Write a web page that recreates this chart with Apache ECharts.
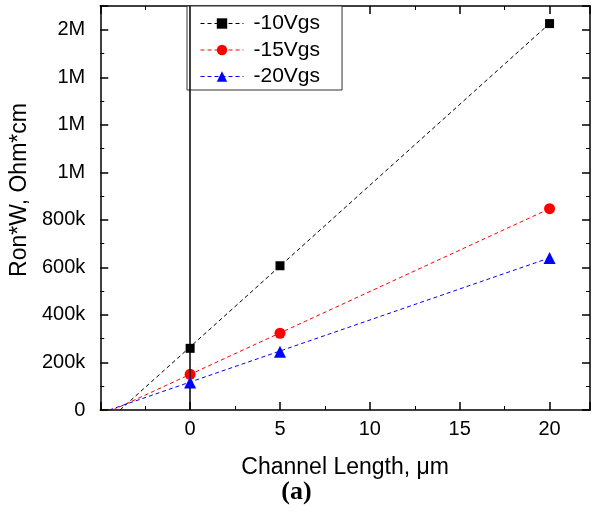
<!DOCTYPE html>
<html>
<head>
<meta charset="utf-8">
<script src="https://cdn.jsdelivr.net/npm/echarts@6/dist/echarts.min.js"></script>
<style>
html,body{margin:0;padding:0;background:#fff;}
#chart{width:593px;height:513px;}
</style>
</head>
<body>
<div id="chart"></div>
<script>
// ---- data ----
const lengths = [0, 5, 20];                      // channel length, µm
const vgs10 = [259500, 607000, 1626000];         // -10Vgs  Ron*W
const vgs15 = [150000, 323000, 847000];          // -15Vgs
const vgs20 = [116000, 245000, 640000];          // -20Vgs
// dashed fit lines: start (x-intercept) and end (x = 20)
const fit10X = [-3.9, 20], fit10Y = [0, 1626000];
const fit15X = [-4.3, 20], fit15Y = [0, 847000];
const fit20X = [-4.5, 20], fit20Y = [0, 640000];
const seriesNames = ['-10Vgs', '-15Vgs', '-20Vgs'];
// tick labels
const xTickValues = [-5, 0, 5, 10, 15, 20];
const xTickLabels = ['', '0', '5', '10', '15', '20'];
const yTickValues = [0, 200000, 400000, 600000, 800000, 1000000, 1200000, 1400000, 1600000];
const yTickLabels = ['0', '200k', '400k', '600k', '800k', '1M', '1M', '1M', '2M'];

const FONT = 'Liberation Sans, Arial, sans-serif';
const colors = ['#000000', '#ff0000', '#0000ff'];
const symbols = ['rect', 'circle', 'triangle'];
const symSizes = [9, 11, 12];

function pairs(xs, ys){ return xs.map((x,i)=>[x, ys[i]]); }

const fits = [pairs(fit10X, fit10Y), pairs(fit15X, fit15Y), pairs(fit20X, fit20Y)];
const pts = [pairs(lengths, vgs10), pairs(lengths, vgs15), pairs(lengths, vgs20)];

const axisCommon = {
  axisLine:{show:true, onZero:false, lineStyle:{color:'#000', width:1.5}},
  axisTick:{show:true, inside:true, length:8, lineStyle:{color:'#000', width:1.5}},
  minorTick:{show:true, splitNumber:2, length:4, lineStyle:{color:'#000', width:1}},
  splitLine:{show:false}
};

const series = [];
fits.forEach((d,i)=>{
  series.push({
    name:'fit'+i, type:'line', data:d, symbol:'none', silent:true, z:2,
    lineStyle:{color:colors[i], width:1, type:[4,3]},
    markLine: i===0 ? {
      silent:true, symbol:['none','none'], label:{show:false},
      lineStyle:{color:'#000', width:1.5, type:'solid'},
      data:[{xAxis:0}]
    } : undefined
  });
});
pts.forEach((d,i)=>{
  series.push({
    name:seriesNames[i], type:'line', data:d, z:3+i,
    symbol:symbols[i], symbolSize:symSizes[i], showSymbol:true,
    itemStyle:{color:colors[i]},
    lineStyle:{color:colors[i], width:0, opacity:0, type:[4,3]}
  });
});

const chart = echarts.init(document.getElementById('chart'), null, {renderer:'canvas'});
chart.setOption({
  animation:false,
  backgroundColor:'#fff',
  grid:{left:96, top:6, right:1, bottom:103, containLabel:false},
  xAxis:[
    Object.assign({}, axisCommon, {
      type:'value', min:-5, max:22.25, interval:5, position:'bottom',
      name:'Channel Length, \u03bcm', nameLocation:'middle', nameGap:46,
      nameTextStyle:{fontFamily:FONT, fontSize:23, color:'#000'},
      axisLabel:{show:true, margin:9, fontFamily:FONT, fontSize:20, color:'#000',
        formatter:v=>{const k=xTickValues.indexOf(v); return k<0?'':xTickLabels[k];}}
    }),
    Object.assign({}, axisCommon, {
      type:'value', min:-5, max:22.25, interval:5, position:'top',
      axisLabel:{show:false}
    })
  ],
  yAxis:[
    Object.assign({}, axisCommon, {
      type:'value', min:0, max:1700000, interval:200000, position:'left',
      name:'Ron*W, Ohm*cm', nameLocation:'middle', nameGap:60,
      nameTextStyle:{fontFamily:FONT, fontSize:23, color:'#000', padding:[0,0,0,36]},
      axisLabel:{show:true, margin:15, fontFamily:FONT, fontSize:20, color:'#000',
        formatter:v=>{const k=yTickValues.indexOf(v); return k<0?'':yTickLabels[k];}}
    }),
    Object.assign({}, axisCommon, {
      type:'value', min:0, max:1700000, interval:200000, position:'right',
      axisLabel:{show:false}
    })
  ],
  legend:{
    data:seriesNames, orient:'vertical', left:187, top:6,
    padding:[7,22,3,13], itemGap:5.5, itemWidth:43, itemHeight:13,
    backgroundColor:'#fff', borderColor:'#333', borderWidth:1,
    textStyle:{fontFamily:FONT, fontSize:21, color:'#000', lineHeight:20, padding:[0,0,0,5]},
    lineStyle:{width:1, opacity:1, type:[4,3]},
    selectedMode:false
  },
  graphic:[{
    type:'text', left:'center', top:479,
    style:{text:'(a)', font:'bold 26px "Liberation Serif", "DejaVu Serif", serif', fill:'#000'}
  }],
  series:series
});
</script>
</body>
</html>
